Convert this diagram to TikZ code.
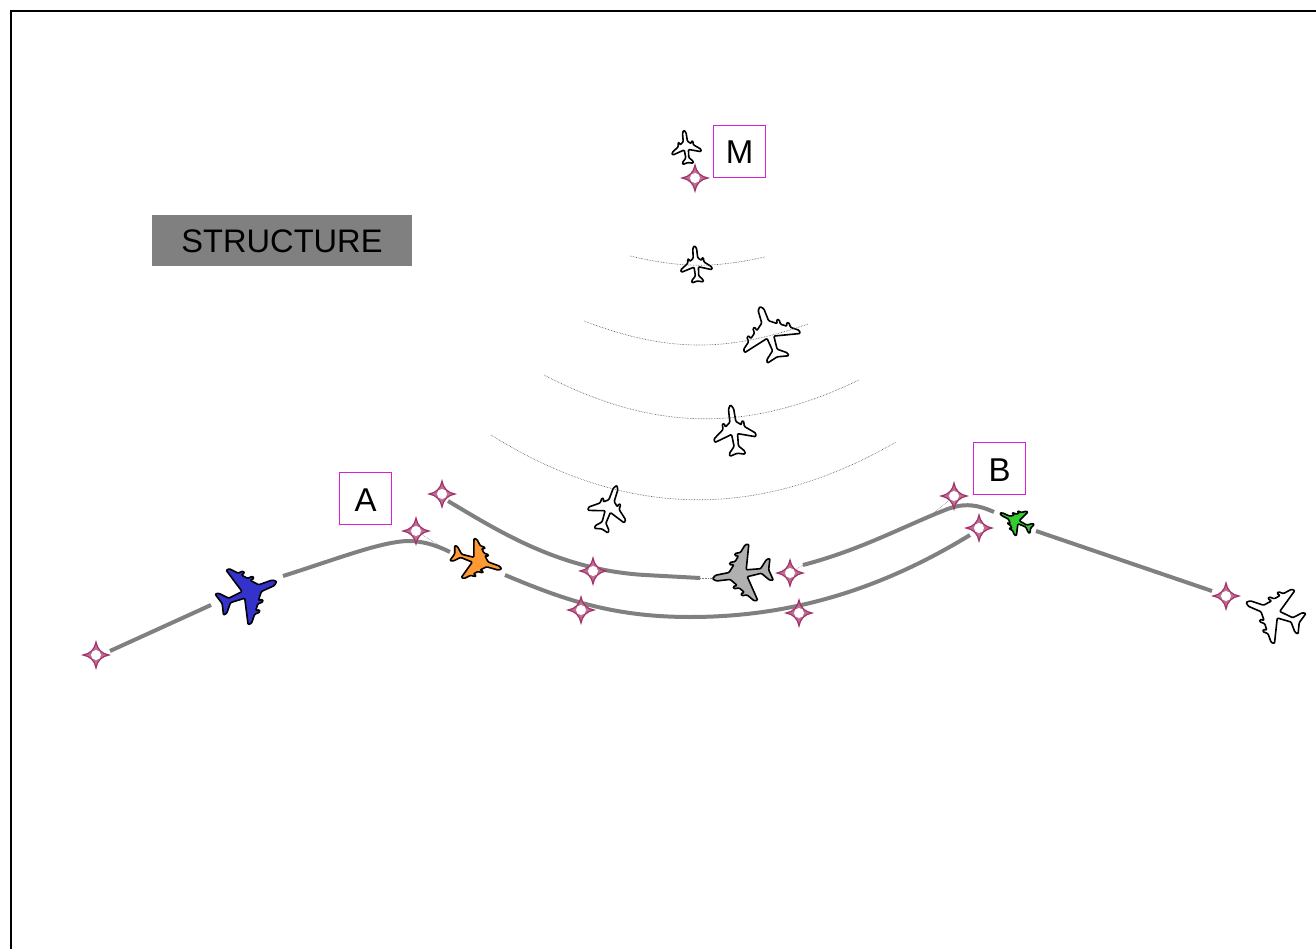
\documentclass[tikz,border=0pt]{standalone}
\usepackage{fontspec}
\setmainfont{Liberation Sans}
\usetikzlibrary{positioning}
\definecolor{waypointred}{HTML}{A33269}
\definecolor{tagmagenta}{HTML}{D81FD8}
\definecolor{routegray}{HTML}{808080}
\definecolor{planeblue}{HTML}{3333CC}
\definecolor{planeorange}{HTML}{FF9933}
\definecolor{planegreen}{HTML}{33CC33}
\definecolor{planegray}{HTML}{B0B0B0}
\tikzstyle{route} = [routegray, line width=4pt]
\tikzstyle{link} = [gray, densely dotted, line width=0.6pt]
\tikzstyle{rangearc} = [black!70, densely dotted, line width=0.6pt]
\tikzstyle{tag} = [rectangle, draw=tagmagenta, line width=1.2pt, minimum width=52pt, minimum height=52pt, inner sep=0pt, text height=25pt, text depth=0pt, font=\fontsize{33}{36}\selectfont]
\tikzstyle{banner} = [rectangle, fill=routegray, minimum width=260pt, minimum height=51pt, inner sep=0pt, text height=25pt, text depth=0pt, font=\fontsize{32.6}{36}\selectfont]
\tikzset{
  planebody/.style={draw=black, line width=1.6pt, line join=round, rounded corners=1pt},
  fourengine/.pic={
    \path[x=1pt, y=1pt, planebody, pic actions] (0,50) -- (5,44) -- (6,21) -- (18,11) -- (19,18) -- (23,17) -- (23,8)
      -- (32,1) -- (33,7) -- (37,6) -- (37,-3) -- (49,-13) -- (49,-19) -- (6,-8) -- (4,-32) -- (18,-44) -- (19,-50) -- (0,-45)
      -- (-19,-50) -- (-18,-44) -- (-4,-32) -- (-6,-8) -- (-49,-19) -- (-49,-13) -- (-37,-3) -- (-37,6) -- (-33,7) -- (-32,1)
      -- (-23,8) -- (-23,17) -- (-19,18) -- (-18,11) -- (-6,21) -- (-5,44) -- cycle;
  },
  twoengine/.pic={
    \path[x=1pt, y=1pt, planebody, pic actions] (0,50) -- (6,42) -- (7,16) -- (19,8) -- (20,15) -- (25,15) -- (25,4)
      -- (49,-12) -- (48,-19) -- (7,-8) -- (5,-32) -- (18,-44) -- (18,-50) -- (0,-46)
      -- (-18,-50) -- (-18,-44) -- (-5,-32) -- (-7,-8) -- (-48,-19) -- (-49,-12) -- (-25,4) -- (-25,15) -- (-20,15) -- (-19,8)
      -- (-7,16) -- (-6,42) -- cycle;
  },
  waypoint/.pic={
    \draw[x=1pt, y=1pt, waypointred, line width=1.2pt, fill=waypointred!70, line join=miter]
      (13,0) .. controls (6,1) and (1,6) .. (0,13) .. controls (-1,6) and (-6,1) .. (-13,0)
      .. controls (-6,-1) and (-1,-6) .. (0,-13) .. controls (1,-6) and (6,-1) .. (13,0) -- cycle;
    \fill[x=1pt, y=1pt, white] (0,0) circle (5);
  }
}

\begin{document}
\begin{tikzpicture}[x=1pt, y=-1pt]
    \useasboundingbox (0,0) rectangle (1316,949);

    % Frame
    \coordinate (frameBL) at (11,949);
    \coordinate (frameTL) at (11,11);
    \coordinate (frameTR) at (1316,11);
    \draw [line width=2pt] (frameBL) -- (frameTL) -- (frameTR);

    % Waypoints
    \coordinate (wpStart) at (96,655);
    \coordinate (wpA1) at (416,531);
    \coordinate (wpA2) at (442,494);
    \coordinate (wpLow1) at (581,610);
    \coordinate (wpUp1) at (593,571);
    \coordinate (wpUp2) at (790,573);
    \coordinate (wpLow2) at (799,613);
    \coordinate (wpB1) at (954,496);
    \coordinate (wpB2) at (979,528);
    \coordinate (wpEnd) at (1226,596);
    \coordinate (wpM) at (695,178);

    % Route ends
    \coordinate (r1a) at (110,651);
    \coordinate (r1b) at (211,605);
    \coordinate (r2a) at (283,576);
    \coordinate (r2b) at (450,552);
    \coordinate (r3a) at (505,575);
    \coordinate (r3b) at (970,535);
    \coordinate (r4a) at (448,501);
    \coordinate (r4b) at (700,578);
    \coordinate (r5a) at (803,565);
    \coordinate (r5b) at (994,512);
    \coordinate (r6a) at (1036,531);
    \coordinate (r6b) at (1212,591);

    % Range arcs
    \coordinate (arcA1) at (630,256);
    \coordinate (arcA2) at (765,257);
    \coordinate (arcB1) at (584,321);
    \coordinate (arcB2) at (808,324);
    \coordinate (arcC1) at (544,375);
    \coordinate (arcC2) at (859,380);
    \coordinate (arcD1) at (491,435);
    \coordinate (arcD2) at (896,442);

    % Links
    \draw [link] (wpA1) -- (r2b);
    \draw [link] (wpUp2) -- (r5a);
    \draw [link] (wpB1) -- (935,512);
    \draw [link] (r4b) -- (714,578);

    % Planes
    \pic [rotate=-68, xscale=0.60, yscale=0.62, fill=planeblue] at (248,593) {fourengine};
    \pic [rotate=-108, xscale=0.42, yscale=0.52, fill=planeorange] at (477,561) {fourengine};
    \pic [rotate=99, xscale=0.58, yscale=0.60, fill=planegray] at (742,574) {fourengine};
    \pic [rotate=64, xscale=0.27, yscale=0.36, fill=planegreen] at (1016,521) {fourengine};
    \pic [rotate=69, xscale=0.58, yscale=0.60, fill=white] at (1274,613) {fourengine};
    \pic [rotate=19, xscale=0.60, yscale=0.56, fill=white] at (769,333) {fourengine};
    \pic [rotate=7, xscale=0.30, yscale=0.34, fill=white] at (686,147) {twoengine};
    \pic [rotate=5, xscale=0.32, yscale=0.37, fill=white] at (696,264) {twoengine};
    \pic [rotate=8, xscale=0.43, yscale=0.51, fill=white] at (734,430) {twoengine};
    \pic [rotate=-19, xscale=0.40, yscale=0.48, fill=white] at (609,508) {twoengine};

    % Arcs
    \draw [rangearc] (arcA1) to[bend right=12.7] (arcA2);
    \draw [rangearc] (arcB1) to[bend right=20] (arcB2);
    \draw [rangearc] (arcC1) to[bend right=26.5] (arcC2);
    \draw [rangearc] (arcD1) to[bend right=31] (arcD2);

    % Routes
    \draw [route] (r1a) -- (r1b);
    \draw [route] (r2a) .. controls (340,558) and (385,540) .. (412,541) .. controls (426,542) and (438,546) .. (r2b);
    \draw [route] (r3a) .. controls (560,598) and (610,617) .. (690,617) .. controls (790,617) and (880,590) .. (r3b);
    \draw [route] (r4a) .. controls (500,532) and (560,570) .. (645,575) -- (r4b);
    \draw [route] (r5a) .. controls (860,550) and (900,528) .. (945,510) .. controls (965,502) and (978,505) .. (r5b);
    \draw [route] (r6a) -- (r6b);

    % Waypoint marks
    \foreach \wp in {wpStart, wpA1, wpA2, wpLow1, wpUp1, wpUp2, wpLow2, wpB1, wpB2, wpEnd, wpM}
        \pic at (\wp) {waypoint};

    % Labels
    \node (tagA) [tag] at (365.5,498.5) {A};
    \node (tagB) [tag] at (999.5,468.5) {B};
    \node (tagM) [tag] at (739.5,151.5) {M};
    \node (structure) [banner] at (282,240.5) {STRUCTURE};
\end{tikzpicture}
\end{document}
